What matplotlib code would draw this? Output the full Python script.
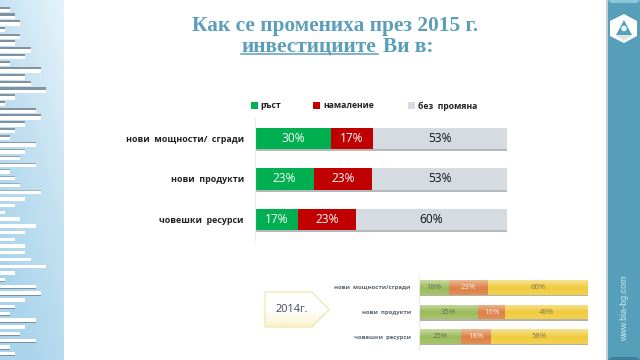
#!/usr/bin/env python
# -*- coding: utf-8 -*-

import numpy as np
import matplotlib
matplotlib.use('Agg')
import matplotlib.pyplot as plt
from matplotlib.colors import LinearSegmentedColormap
from matplotlib.patches import Polygon, Rectangle, Circle

W, H = 640, 360
BODY = 'Open Sans'

categories = ['нови  мощности/  сгради', 'нови  продукти', 'човешки  ресурси']
legend_names = ['ръст', 'намаление', 'без  промяна']
up_2015 = [30, 23, 17]
down_2015 = [17, 23, 23]
same_2015 = [53, 53, 60]

categories_2014 = ['нови  мощности/сгради', 'нови  продукти', 'човешки  ресурси']
up_2014 = [18, 35, 25]
down_2014 = [23, 16, 18]
same_2014 = [60, 49, 58]

# length of the stripes on the left strip, top to bottom
stripes = [10, 15, 20, 5, 20, 15, 31, 25, 10, 41, 25, 31, 46, 15, 5, 36, 41, 25,
           15, 10, 36, 25, 20, 36, 10, 15, 20, 41, 25, 15, 5, 20, 36, 25, 15, 25,
           25, 31, 46, 15, 5, 36, 41, 25, 15, 10, 36, 25, 20, 36, 10, 15]


def px_axes(fig, x0, y0, x1, y1):
    # axes placed by pixels, y counted from the top
    return fig.add_axes([x0 / W, 1 - y1 / H, (x1 - x0) / W, (y1 - y0) / H])


def stacked(ax, names, series, colors, txt_colors, height, fontsize, shadow, gloss, label_x, label_size, label_color):
    totals = np.sum(series, axis=0)
    left = np.zeros(len(names))
    y = np.arange(len(names))
    ax.barh(y + 0.05, 100, height=height, color=shadow, zorder=1)
    for vals, col, tc in zip(series, colors, txt_colors):
        share = np.array(vals) / totals * 100
        ax.barh(y, share, left=left, height=height, color=col, zorder=2)
        for yy, l, s, v in zip(y, left, share, vals):
            ax.text(l + s / 2, yy, '%d%%' % v, color=tc, fontsize=fontsize,
                    ha='center', va='center', family=BODY, zorder=4)
        left += share
    if gloss:
        grad = np.ones((32, 1, 4))
        grad[:, 0, 3] = np.concatenate([np.linspace(0.45, 0.05, 16), np.linspace(0, 0.12, 16)])
        for yy in y:
            ax.imshow(grad, extent=[0, 100, yy + height / 2, yy - height / 2], aspect='auto', zorder=3)
    ax.set_xlim(0, 100)
    ax.set_ylim(len(names) - 0.5, -0.5)
    ax.set_xticks([])
    ax.set_yticks(y)
    ax.set_yticklabels(names, fontsize=label_size, fontweight='bold', family=BODY, color=label_color)
    ax.tick_params(axis='y', length=0, pad=label_x)
    for side in ['top', 'right', 'bottom']:
        ax.spines[side].set_visible(False)
    ax.spines['left'].set_color('#e6e9ec')
    ax.spines['left'].set_linewidth(0.8)
    ax.patch.set_alpha(0)


fig = plt.figure(figsize=(6.4, 3.6), dpi=100, facecolor='white')

# background layer in pixels
bg = fig.add_axes([0, 0, 1, 1])
bg.set_xlim(0, W)
bg.set_ylim(H, 0)
bg.axis('off')

# left strip
strip_cmap = LinearSegmentedColormap.from_list('strip', ['#e6f3fa', '#c4e1f1', '#aad4ec'])
xx, yy = np.meshgrid(np.linspace(0, 1, 40), np.linspace(0, 1, 80))
bg.imshow(np.clip((1 - xx) * 0.45 + yy * 0.75, 0, 1), cmap=strip_cmap, vmin=0, vmax=1,
          extent=[0, 64, H, 0], aspect='auto', zorder=1)
for i, n in enumerate(stripes):
    y = 8.8 + i * 6.73
    # shadow sits above the stripe at the top and goes under it further down
    t = np.clip((y - 120) / 170, 0, 1)
    dy = -1.9 + 4.2 * t
    amount = 0.6 * abs(2 * t - 1) ** 0.6 + 0.2
    bg.add_patch(Rectangle((0, y + dy - 0.2), n, 2.2, fc='#6f7f88', ec='none', alpha=amount, zorder=2))
    bg.add_patch(Rectangle((0, y), n, 3.4, fc='white', ec='none', zorder=3))

# right band
bg.add_patch(Rectangle((606, 0), 2, H, fc='#c9ced2', ec='none', zorder=1))
bg.add_patch(Rectangle((608, 0), 32, H, fc='#569fba', ec='none', zorder=2))
bg.add_patch(Polygon([(608, 0), (640, 0), (637, 3), (611, 3)], fc='#8cc6d8', ec='none', zorder=3))
bg.add_patch(Polygon([(608, 360), (640, 360), (637, 357), (611, 357)], fc='#3f8099', ec='none', zorder=3))

# logo
bg.add_patch(Polygon([(624, 14), (637, 21), (637, 36), (624, 43), (610, 36), (610, 21)],
                     fc='white', ec='none', zorder=4))
bg.add_patch(Polygon([(624, 20), (632, 35), (616, 35)], fc='#569fba', ec='none', zorder=5))
bg.add_patch(Circle((624, 28.5), 2.8, fc='#e8f1f4', ec='none', zorder=6))
bg.add_patch(Polygon([(615, 35), (633, 35), (624, 41)], fc='#dfe4e6', ec='none', zorder=6))
bg.text(625, 341, 'www.bia-bg.com', rotation=90, color='#d5e8ef', fontsize=6.4,
        family='Liberation Sans', ha='center', va='bottom', zorder=6)

# title
title_color = '#5b9fbb'
bg.text(335.5, 31.5, 'Как се промениха през 2015 г.', color=title_color, fontsize=15.4,
        fontweight='bold', family='Liberation Serif', ha='center', va='baseline')
bg.text(241, 51.5, 'инвестициите', color=title_color, fontsize=15.4,
        fontweight='bold', family='Liberation Serif', ha='left', va='baseline')
bg.text(383, 51.5, 'Ви в:', color=title_color, fontsize=15.4,
        fontweight='bold', family='Liberation Serif', ha='left', va='baseline')
bg.plot([241, 378], [53.5, 53.5], color=title_color, lw=1.1)

# legend
legend_colors = ['#00b050', '#c00000', '#d5dbe1']
for name, col, x0, xt in zip(legend_names, legend_colors, [251, 313, 408], [260, 323, 418]):
    bg.add_patch(Rectangle((x0, 102), 6.5, 6.5, fc=col, ec='none'))
    bg.text(xt, 106, name, fontsize=6.2, fontweight='bold', family=BODY, ha='left', va='center', color='#222222')

# 2014 box
box_pts = [(265, 292), (312, 292), (329, 309.5), (312, 327), (265, 327)]
box_cmap = LinearSegmentedColormap.from_list('box', ['#ffffff', '#ffffff', '#fbf3cf'])
box_img = bg.imshow(np.linspace(0, 1, 32).reshape(-1, 1), cmap=box_cmap,
                    extent=[265, 329, 327, 292], aspect='auto', zorder=2)
box = Polygon(box_pts, fc='none', ec='#f1e6ae', lw=0.9, zorder=3)
bg.add_patch(box)
box_img.set_clip_path(box)
bg.text(292, 309.5, '2014г.', fontsize=7.8, family=BODY, ha='center', va='center', color='#3b4a55', zorder=4)
bg.set_xlim(0, W)
bg.set_ylim(H, 0)

# main chart
ax = px_axes(fig, 255, 118, 507, 240)
stacked(ax, categories, [up_2015, down_2015, same_2015], legend_colors,
        ['white', 'white', '#111111'], 0.52, 8.6, '#b5b9bc', False, 8, 6.4, '#222222')

# 2014 chart
ax2 = px_axes(fig, 419, 275, 588, 349)
stacked(ax2, categories_2014, [up_2014, down_2014, same_2014], ['#9bbb59', '#dd8044', '#f0cb3c'],
        ['#5f7060', '#fbeee2', '#7d7a50'], 0.59, 5.6, '#b3b3a6', True, 6, 4.3, '#5a6670')

fig.savefig('out.png', dpi=100)
